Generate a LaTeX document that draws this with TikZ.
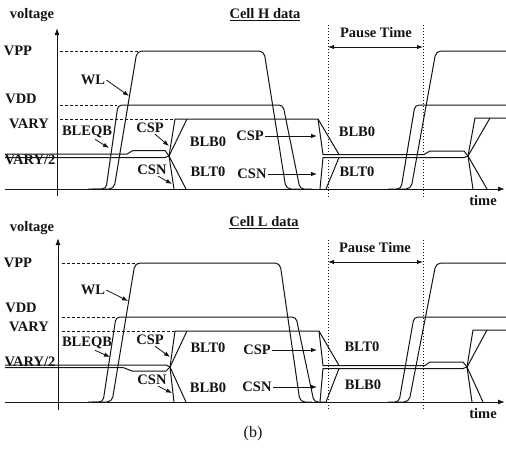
\documentclass[tikz,border=0pt]{standalone}
\usepackage{fontspec}
\setmainfont{Liberation Serif}
\usepackage{tikz}
\usetikzlibrary{arrows.meta}

\begin{document}
\begin{tikzpicture}[x=1pt,y=1pt,line width=1pt,color=black!92,
  every node/.style={font=\fontsize{14.5pt}{16pt}\selectfont\bfseries,inner sep=0.8pt},
  wave/.style={rounded corners=5pt},
  lvl/.style={line width=0.9pt,dash pattern=on 2.5pt off 2.5pt},
  pause/.style={line width=1pt,dash pattern=on 1.2pt off 1.8pt},
  pointer/.style={line width=0.8pt,-{Latex[length=6pt,width=4.5pt]}},
  span/.style={line width=0.9pt,{Latex[length=6pt,width=4.5pt]}-{Latex[length=6pt,width=4.5pt]}},
  axis/.style={line width=1pt,-{Latex[length=7pt,width=5pt]}}]
  \useasboundingbox (0,0) rectangle (506,-458);

  % ---- cell H data
  \node (voltA) at (32,-15) {voltage};
  \node (titleA) at (265,-15) {\underline{Cell H data}};
  \coordinate (oA) at (5,-189);
  \coordinate (tA) at (505,-189);
  \coordinate (vA0) at (57,-196);
  \coordinate (vA1) at (57,-28);
  \draw[axis] (oA) -- (tA);
  \draw[axis] (vA0) -- (vA1);
  \node (timeA) at (483,-201) {time};

  \node (vppA)  at (18,-51)  {VPP};
  \node (vddA)  at (21,-99)  {VDD};
  \node (varyA) at (29,-124) {VARY};
  \node (halfA) at (30,-160) {VARY/2};
  \draw[lvl] (60,-51) -- (140,-51);
  \draw[lvl] (60,-105) -- (117,-105);
  \draw[lvl] (60,-119) -- (174,-119);

  % WL and BLEQB
  \draw[wave] (92,-189) -- (114,-189) -- (137,-51) -- (264,-51) -- (286,-189) -- (300,-189);
  \draw[wave] (396,-189) -- (411,-189) -- (436,-51) -- (506,-51);
  \draw[wave,rounded corners=4pt] (88,-189) -- (106,-189) -- (118,-105) -- (283,-105) -- (300,-189) -- (312,-189);
  \draw[wave,rounded corners=4pt] (388,-189) -- (401,-189) -- (415,-105) -- (506,-105);

  % bit lines
  \coordinate (xA) at (169,-156);
  \coordinate (yA) at (468,-156);
  \draw (5,-154) -- (127,-154) -- (133,-150.5) -- (165,-150.5) -- (xA);
  \draw (5,-157.5) -- (165,-157.5) -- (xA);
  \draw (xA) -- (175,-119) -- (318,-119);
  \draw (xA) -- (187,-119);
  \draw (xA) -- (174,-189);
  \draw (xA) -- (186,-189);
  \draw (318,-119) -- (339,-154.5) -- (424,-154.5) -- (430,-151) -- (464,-151) -- (yA);
  \draw (318,-119) -- (323,-154.5) -- (339,-154.5);
  \draw (320,-189) -- (323,-157.5) -- (464,-157.5) -- (yA);
  \draw (326,-189) -- (339,-157.5);
  \draw (yA) -- (475,-118) -- (506,-118);
  \draw (yA) -- (490,-118);
  \draw (yA) -- (473,-189);
  \draw (yA) -- (487,-189);

  % pause time
  \draw[pause] (328,-25) -- (328,-198);
  \draw[pause] (423,-25) -- (423,-198);
  \coordinate (pA0) at (328,-47);
  \coordinate (pA1) at (423,-47);
  \draw[span] (pA0) -- (pA1);
  \node (pauseA) at (376,-33) {Pause Time};

  % labels
  \node (wlA) at (93,-80) {WL};
  \coordinate (wlAtip) at (129,-96);
  \draw[pointer] (wlA.east) -- (wlAtip);
  \node (bleqA) at (87,-132) {BLEQB};
  \coordinate (bleqAtip) at (109,-148);
  \draw[pointer] ([xshift=8pt]bleqA.south) -- (bleqAtip);
  \node (cspA) at (150,-128) {CSP};
  \coordinate (cspAtip) at (169,-146);
  \draw[pointer] ([xshift=5pt]cspA.south) -- (cspAtip);
  \node (csnA) at (152,-170) {CSN};
  \coordinate (csnAtip) at (172,-184);
  \draw[pointer] ([xshift=6pt]csnA.south) -- (csnAtip);
  \node (blbA) at (208,-142) {BLB0};
  \node (bltA) at (208,-172) {BLT0};
  \node (cspB) at (250,-136) {CSP};
  \coordinate (cspBtip) at (317,-136);
  \draw[pointer] (cspB) -- (cspBtip);
  \node (csnB) at (252,-174) {CSN};
  \coordinate (csnBtip) at (317,-174);
  \draw[pointer] (csnB) -- (csnBtip);
  \node (blbB) at (357,-132) {BLB0};
  \node (bltB) at (357,-172) {BLT0};

  % ---- cell L data
  \node (voltC) at (32,-228) {voltage};
  \node (titleC) at (264,-223) {\underline{Cell L data}};
  \coordinate (oC) at (5,-402);
  \coordinate (tC) at (505,-402);
  \coordinate (vC0) at (58,-410);
  \coordinate (vC1) at (58,-238);
  \draw[axis] (oC) -- (tC);
  \draw[axis] (vC0) -- (vC1);
  \node (timeC) at (483,-414) {time};

  \node (vppC)  at (18,-263) {VPP};
  \node (vddC)  at (21,-308) {VDD};
  \node (varyC) at (29,-327) {VARY};
  \node (halfC) at (30,-362) {VARY/2};
  \draw[lvl] (62,-263) -- (140,-263);
  \draw[lvl] (62,-317) -- (116,-317);
  \draw[lvl] (62,-331) -- (174,-331);

  % WL and BLEQB
  \draw[wave] (92,-402) -- (112,-402) -- (135,-263) -- (280,-263) -- (300,-402) -- (312,-402);
  \draw[wave] (396,-402) -- (409,-402) -- (436,-263) -- (506,-263);
  \draw[wave,rounded corners=4pt] (88,-402) -- (103,-402) -- (116,-317) -- (296,-317) -- (314,-402) -- (326,-402);
  \draw[wave,rounded corners=4pt] (388,-402) -- (399,-402) -- (414,-317) -- (506,-317);

  % bit lines
  \coordinate (xC) at (170,-367);
  \coordinate (yC) at (467,-367);
  \draw (5,-365) -- (166,-365) -- (xC);
  \draw (5,-367.5) -- (123,-367.5) -- (132,-371) -- (166,-371) -- (xC);
  \draw (xC) -- (175,-331) -- (319,-331);
  \draw (xC) -- (187,-331);
  \draw (xC) -- (174,-402);
  \draw (xC) -- (186,-402);
  \draw (319,-331) -- (339,-365.5) -- (425,-365.5) -- (430,-362) -- (463,-362) -- (yC);
  \draw (319,-331) -- (323,-365.5) -- (339,-365.5);
  \draw (320,-402) -- (323,-368.5) -- (463,-368.5) -- (yC);
  \draw (326,-402) -- (339,-368.5);
  \draw (yC) -- (473,-330) -- (506,-330);
  \draw (yC) -- (487,-330);
  \draw (yC) -- (472,-402);
  \draw (yC) -- (483,-402);

  % pause time
  \draw[pause] (328,-240) -- (328,-410);
  \draw[pause] (423,-240) -- (423,-410);
  \coordinate (pC0) at (328,-262);
  \coordinate (pC1) at (423,-262);
  \draw[span] (pC0) -- (pC1);
  \node (pauseC) at (375,-248) {Pause Time};

  % labels
  \node (wlC) at (93,-290) {WL};
  \coordinate (wlCtip) at (128,-301);
  \draw[pointer] (wlC.east) -- (wlCtip);
  \node (bleqC) at (87,-343) {BLEQB};
  \coordinate (bleqCtip) at (110,-357);
  \draw[pointer] ([xshift=8pt]bleqC.south) -- (bleqCtip);
  \node (cspC) at (150,-340) {CSP};
  \coordinate (cspCtip) at (170,-357);
  \draw[pointer] ([xshift=5pt]cspC.south) -- (cspCtip);
  \node (csnC) at (152,-380) {CSN};
  \coordinate (csnCtip) at (172,-393);
  \draw[pointer] ([xshift=6pt]csnC.south) -- (csnCtip);
  \node (bltC) at (208,-348) {BLT0};
  \node (blbC) at (208,-388) {BLB0};
  \node (cspD) at (257,-350) {CSP};
  \coordinate (cspDtip) at (317,-350);
  \draw[pointer] (cspD) -- (cspDtip);
  \node (csnD) at (257,-387) {CSN};
  \coordinate (csnDtip) at (317,-387);
  \draw[pointer] (csnD) -- (csnDtip);
  \node (bltD) at (362,-347) {BLT0};
  \node (blbD) at (363,-385) {BLB0};

  \node[font=\fontsize{16pt}{18pt}\selectfont] (cap) at (253,-434) {(b)};
\end{tikzpicture}
\end{document}
